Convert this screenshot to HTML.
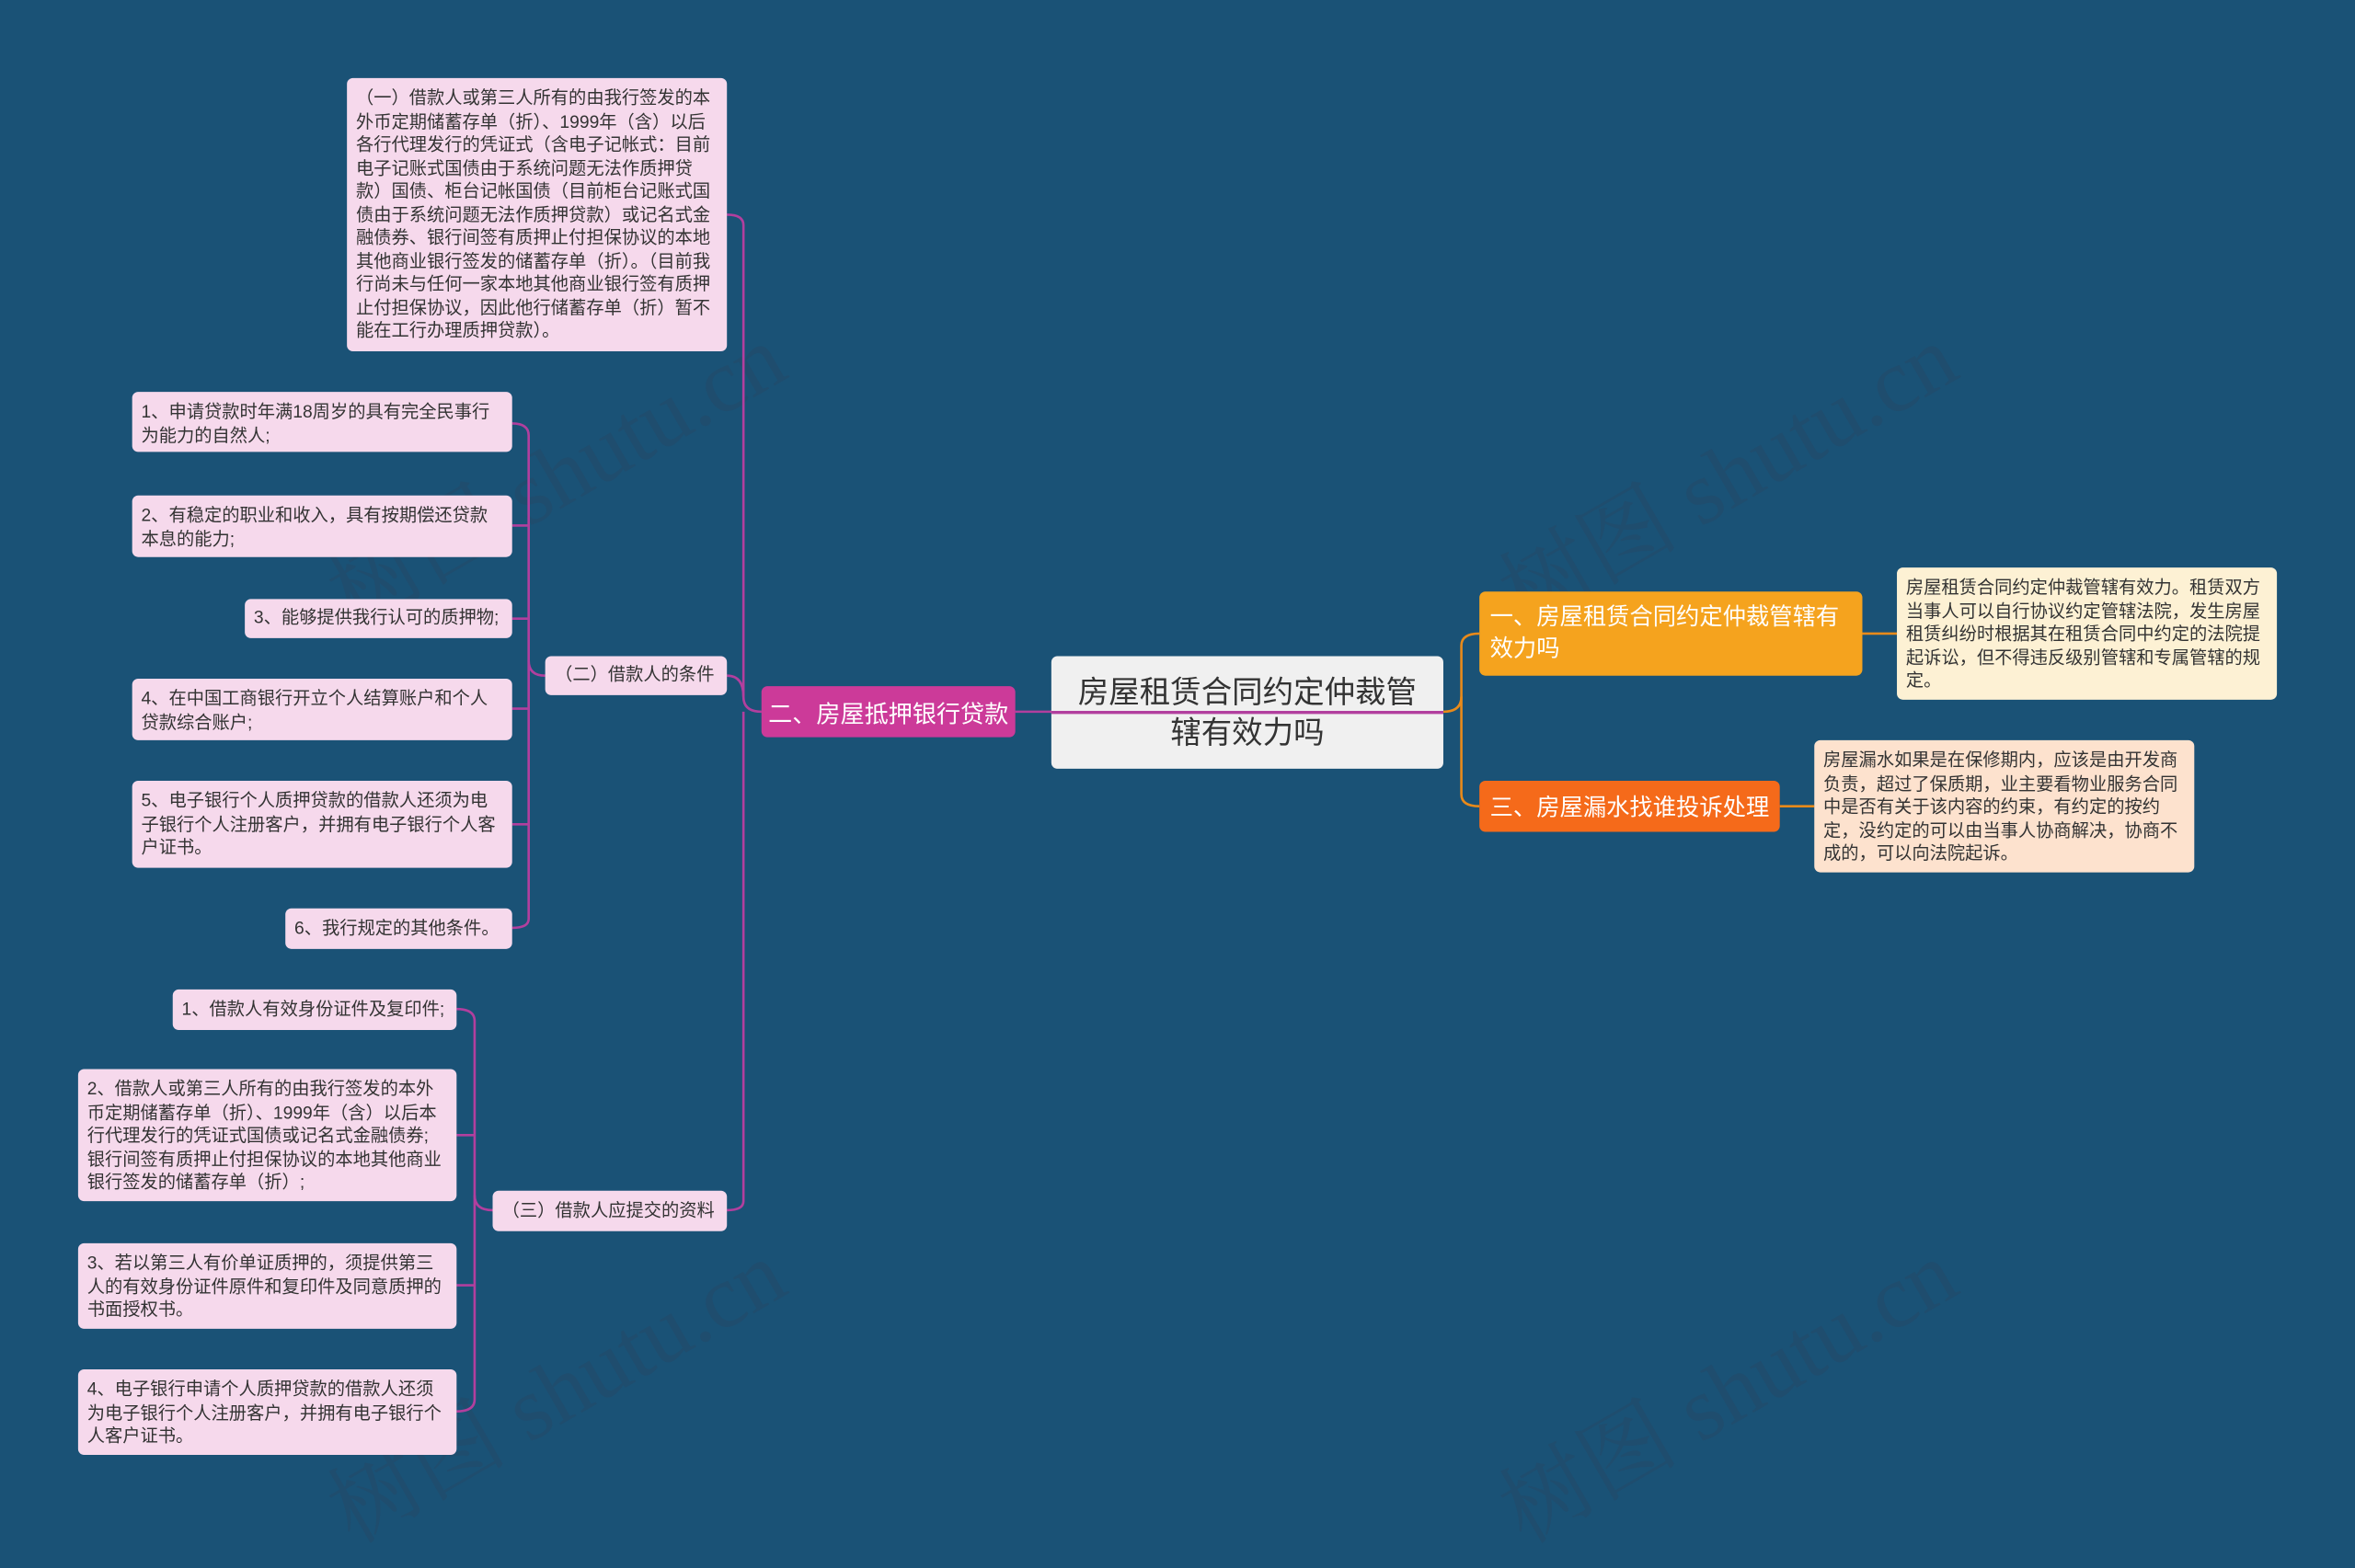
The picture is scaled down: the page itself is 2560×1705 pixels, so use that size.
<!DOCTYPE html>
<html><head><meta charset="utf-8"><style>
html,body{margin:0;padding:0;width:2560px;height:1668px;overflow:hidden;background:#1a5276;}
#s{position:absolute;left:0;top:0;width:1568px;height:1022px;transform:scale(1.63265);transform-origin:0 0;font-family:"Liberation Sans","Noto Sans CJK SC",sans-serif;}
.n{position:absolute;box-sizing:border-box;border-radius:4px;}
.l{background:#f6d9ec;color:#333;font-size:11.8px;line-height:15.5px;padding:6px 8px 4px 6px;}
.c{display:flex;align-items:center;padding-top:0;padding-bottom:0;}
.wm{position:absolute;color:rgba(40,70,100,0.4);font-size:60px;transform:rotate(-30deg);white-space:nowrap;font-family:"Liberation Serif","Noto Serif CJK SC",serif;}
svg{position:absolute;left:0;top:0;}
</style></head><body><div id="s">
<div class="wm" style="left:200px;top:270px">树图 shutu.cn</div>
<div class="wm" style="left:980px;top:270px">树图 shutu.cn</div>
<div class="wm" style="left:200px;top:880px">树图 shutu.cn</div>
<div class="wm" style="left:980px;top:880px">树图 shutu.cn</div>
<svg width="1568" height="1022" fill="none">
<g stroke="#b23f9e" stroke-width="1.6">
<path d="M507 474 H676"/>
<path d="M676 474 H961"/>
<path d="M507 474 Q495 474 495 464 V150 Q495 143 484 143"/>
<path d="M495 464 Q495 450 484 450"/>
<path d="M495 474 V800 Q495 806 484 806"/>
<path d="M363 450 Q352 450 352 440 V290 Q352 282 341 282"/>
<path d="M352 440 V612 Q352 618 341 618"/>
<path d="M352 350 Q352 350 341 350 M352 412 H341 M352 472 H341 M352 549 H341"/>
<path d="M328 806 Q316 806 316 796 V680 Q316 672 304 672"/>
<path d="M316 796 V932 Q316 940 304 940"/>
<path d="M316 756 H304 M316 856 H304"/>
</g>
<g stroke="#e88a1a" stroke-width="1.6">
<path d="M961 474 Q973 474 973 464 V430 Q973 422 985 422"/>
<path d="M973 464 V529 Q973 537 985 537"/>
<path d="M1240 422 H1263"/>
<path d="M1185 537 H1208"/>
</g>
</svg>
<div class="n c" style="left:700px;top:437px;width:261px;height:75px;background:#f0f0f0;color:#333;font-size:20.5px;line-height:27px;text-align:center;justify-content:center;padding:0 15px">房屋租赁合同约定仲裁管辖有效力吗</div>
<svg width="1568" height="1022"><path d="M700 474.5 H961" stroke="#b23f9e" stroke-width="2"/></svg>
<div class="n c" style="left:507px;top:457px;width:169px;height:34px;background:#cc3a99;color:#fff;font-size:16px;justify-content:center">二、房屋抵押银行贷款</div>
<div class="n c" style="left:985px;top:394px;width:255px;height:56px;background:#f5a31e;color:#fff;font-size:15.5px;line-height:21px;padding:0 7px">一、房屋租赁合同约定仲裁管辖有效力吗</div>
<div class="n c" style="left:985px;top:520px;width:200px;height:34px;background:#f56a1a;color:#fff;font-size:15.5px;padding:0 7px">三、房屋漏水找谁投诉处理</div>
<div class="n l" style="left:1263px;top:378px;width:253px;height:88px;background:#fdf1d4">房屋租赁合同约定仲裁管辖有效力。租赁双方当事人可以自行协议约定管辖法院，发生房屋租赁纠纷时根据其在租赁合同中约定的法院提起诉讼，但不得违反级别管辖和专属管辖的规定。</div>
<div class="n l" style="left:1208px;top:493px;width:253px;height:88px;background:#fde2ce">房屋漏水如果是在保修期内，应该是由开发商负责，超过了保质期，业主要看物业服务合同中是否有关于该内容的约束，有约定的按约定，没约定的可以由当事人协商解决，协商不成的，可以向法院起诉。</div>
<div class="n l" style="left:231px;top:52px;width:253px;height:182px">（一）借款人或第三人所有的由我行签发的本外币定期储蓄存单（折）、1999年（含）以后各行代理发行的凭证式（含电子记帐式：目前电子记账式国债由于系统问题无法作质押贷款）国债、柜台记帐国债（目前柜台记账式国债由于系统问题无法作质押贷款）或记名式金融债券、银行间签有质押止付担保协议的本地其他商业银行签发的储蓄存单（折）。（目前我行尚未与任何一家本地其他商业银行签有质押止付担保协议，因此他行储蓄存单（折）暂不能在工行办理质押贷款）。</div>
<div class="n l c" style="left:363px;top:437px;width:121px;height:26px;justify-content:center">（二）借款人的条件</div>
<div class="n l" style="left:88px;top:261px;width:253px;height:40px">1、申请贷款时年满18周岁的具有完全民事行为能力的自然人;</div>
<div class="n l" style="left:88px;top:330px;width:253px;height:41px">2、有稳定的职业和收入，具有按期偿还贷款本息的能力;</div>
<div class="n l c" style="left:163px;top:399px;width:178px;height:26px">3、能够提供我行认可的质押物;</div>
<div class="n l" style="left:88px;top:452px;width:253px;height:41px">4、在中国工商银行开立个人结算账户和个人贷款综合账户;</div>
<div class="n l" style="left:88px;top:520px;width:253px;height:58px">5、电子银行个人质押贷款的借款人还须为电子银行个人注册客户，并拥有电子银行个人客户证书。</div>
<div class="n l c" style="left:190px;top:605px;width:151px;height:27px">6、我行规定的其他条件。</div>
<div class="n l c" style="left:328px;top:793px;width:156px;height:27px;justify-content:center">（三）借款人应提交的资料</div>
<div class="n l c" style="left:115px;top:659px;width:189px;height:27px">1、借款人有效身份证件及复印件;</div>
<div class="n l" style="left:52px;top:712px;width:252px;height:88px">2、借款人或第三人所有的由我行签发的本外币定期储蓄存单（折）、1999年（含）以后本行代理发行的凭证式国债或记名式金融债券;银行间签有质押止付担保协议的本地其他商业银行签发的储蓄存单（折）;</div>
<div class="n l" style="left:52px;top:828px;width:252px;height:57px">3、若以第三人有价单证质押的，须提供第三人的有效身份证件原件和复印件及同意质押的书面授权书。</div>
<div class="n l" style="left:52px;top:912px;width:252px;height:57px">4、电子银行申请个人质押贷款的借款人还须为电子银行个人注册客户，并拥有电子银行个人客户证书。</div>
</div></body></html>
